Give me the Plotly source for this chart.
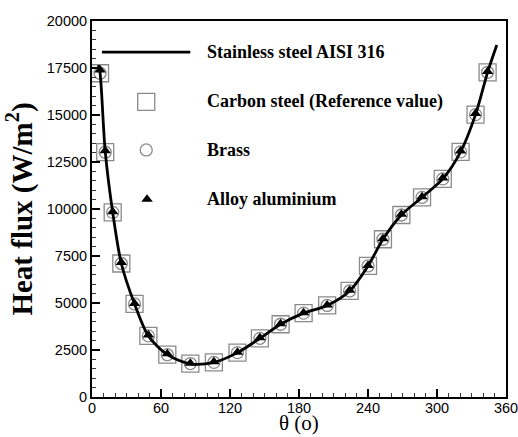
import plotly.graph_objects as go

# ---- data ----
theta_pts = [7, 11.5, 18, 25.5, 37, 49, 65.5, 85.5, 106, 126.5, 146, 164, 184,
             204.5, 224, 240, 253, 269, 287, 305, 320.5, 333.5, 344]
carbon_steel = [17220, 13020, 9820, 7100, 4950, 3250, 2250, 1780, 1840, 2360, 3120,
                3870, 4460, 4870, 5640, 6970, 8390, 9680, 10620, 11600, 13040, 15020, 17270]
brass = [17220, 13020, 9820, 7100, 4950, 3250, 2250, 1780, 1840, 2360, 3120,
         3870, 4460, 4870, 5640, 6970, 8390, 9680, 10620, 11600, 13040, 15020, 17270]
alloy_aluminium = [17400, 13100, 9850, 7150, 4980, 3300, 2300, 1800, 1870, 2380, 3150,
                   3900, 4480, 4900, 5680, 7000, 8420, 9720, 10650, 11650, 13080, 15080, 17320]

theta_line = [5.5, 7, 11.5, 18, 25.5, 37, 49, 65.5, 85.5, 106, 126.5, 146, 164, 184,
              204.5, 224, 240, 253, 269, 287, 305, 320.5, 333.5, 344, 352]
stainless_steel = [17650, 17250, 13050, 9820, 7100, 4950, 3250, 2250, 1760, 1840, 2360,
                   3120, 3870, 4460, 4870, 5640, 6970, 8390, 9680, 10620, 11600, 13040,
                   15020, 17270, 18720]

legend_labels = ["Stainless steel AISI 316", "Carbon steel (Reference value)",
                 "Brass", "Alloy aluminium"]
x_title = "θ (o)"
y_title = "<b>Heat flux (W/m<sup>2</sup>)</b>"

x_ticks = [0, 60, 120, 180, 240, 300, 360]
y_ticks = [0, 2500, 5000, 7500, 10000, 12500, 15000, 17500, 20000]

# ---- styles ----
GRAY = "#8a8a8a"
sq_marker = dict(symbol="square-open", size=17, color=GRAY, line=dict(width=1.3, color=GRAY))
ci_marker = dict(symbol="circle-open", size=12, color=GRAY, line=dict(width=1.3, color=GRAY))
tr_marker = dict(symbol="triangle-up", size=10, color="black")
SERIF = "Liberation Serif, Times New Roman, serif"
LEG_FONT = dict(family=SERIF, size=18, color="black")

fig = go.Figure()
fig.add_trace(go.Scatter(x=theta_pts, y=carbon_steel, mode="markers", marker=sq_marker,
                         name=legend_labels[1], showlegend=False))
fig.add_trace(go.Scatter(x=theta_pts, y=brass, mode="markers", marker=ci_marker,
                         name=legend_labels[2], showlegend=False))
fig.add_trace(go.Scatter(x=theta_line, y=stainless_steel, mode="lines",
                         line=dict(color="black", width=2.8, shape="spline", smoothing=0.8),
                         name=legend_labels[0], showlegend=False))
fig.add_trace(go.Scatter(x=theta_pts, y=alloy_aluminium, mode="markers", marker=tr_marker,
                         name=legend_labels[3], showlegend=False))

# ---- manual legend (in axis-fraction coordinates on an overlay axis) ----
leg_rows = [0.917, 0.785, 0.657, 0.526]
sym_x = 0.131
txt_x = 0.274
fig.add_trace(go.Scatter(x=[0.024, 0.2375], y=[leg_rows[0]] * 2, mode="lines",
                         line=dict(color="black", width=2.8), xaxis="x2", yaxis="y2",
                         showlegend=False, hoverinfo="skip"))
fig.add_trace(go.Scatter(x=[sym_x], y=[leg_rows[1]], mode="markers", marker=sq_marker,
                         xaxis="x2", yaxis="y2", showlegend=False, hoverinfo="skip"))
fig.add_trace(go.Scatter(x=[sym_x], y=[leg_rows[2]], mode="markers", marker=ci_marker,
                         xaxis="x2", yaxis="y2", showlegend=False, hoverinfo="skip"))
fig.add_trace(go.Scatter(x=[sym_x + 0.002], y=[leg_rows[3]], mode="markers", marker=tr_marker,
                         xaxis="x2", yaxis="y2", showlegend=False, hoverinfo="skip"))
for lab, yy in zip(legend_labels, leg_rows):
    fig.add_annotation(x=txt_x, y=yy, xref="x2", yref="y2", text="<b>%s</b>" % lab,
                       showarrow=False, xanchor="left", yanchor="middle", font=LEG_FONT)

# x-axis title as an annotation, bottom-aligned with the page edge
fig.add_annotation(x=0.5, y=0, xref="paper", yref="paper", text=x_title, showarrow=False,
                   xanchor="center", yanchor="bottom", yshift=-40,
                   font=dict(family=SERIF, size=21, color="black"))

TICK_FONT = dict(family="Liberation Sans, Arial, sans-serif", size=14.5, color="black")
fig.update_layout(
    width=518, height=437,
    margin=dict(l=92, r=12, t=21, b=40),
    paper_bgcolor="white", plot_bgcolor="white",
    xaxis=dict(range=[0, 360], tickvals=x_ticks, ticktext=[str(v) for v in x_ticks],
               ticks="inside", ticklen=8, tickwidth=2, tickcolor="black",
               minor=dict(dtick=10, ticks="inside", ticklen=4, tickwidth=1, tickcolor="#333"),
               showline=True, linecolor="black", linewidth=2, mirror=True,
               showgrid=False, zeroline=False, tickfont=TICK_FONT, automargin=False,
               ticklabeloverflow="allow", ticklabelstandoff=-3),
    yaxis=dict(range=[0, 20000], tickvals=y_ticks, ticktext=[str(v) for v in y_ticks],
               ticks="inside", ticklen=8, tickwidth=2, tickcolor="black",
               minor=dict(dtick=500, ticks="inside", ticklen=4, tickwidth=1, tickcolor="#333"),
               showline=True, linecolor="black", linewidth=2, mirror=True,
               showgrid=False, zeroline=False, tickfont=TICK_FONT, automargin=False,
               ticklabeloverflow="allow",
               title=dict(text=y_title, standoff=6,
                          font=dict(family=SERIF, size=29, color="black"))),
    xaxis2=dict(range=[0, 1], overlaying="x", visible=False, fixedrange=True),
    yaxis2=dict(range=[0, 1], overlaying="y", visible=False, fixedrange=True),
)

fig.write_html("out.html")
